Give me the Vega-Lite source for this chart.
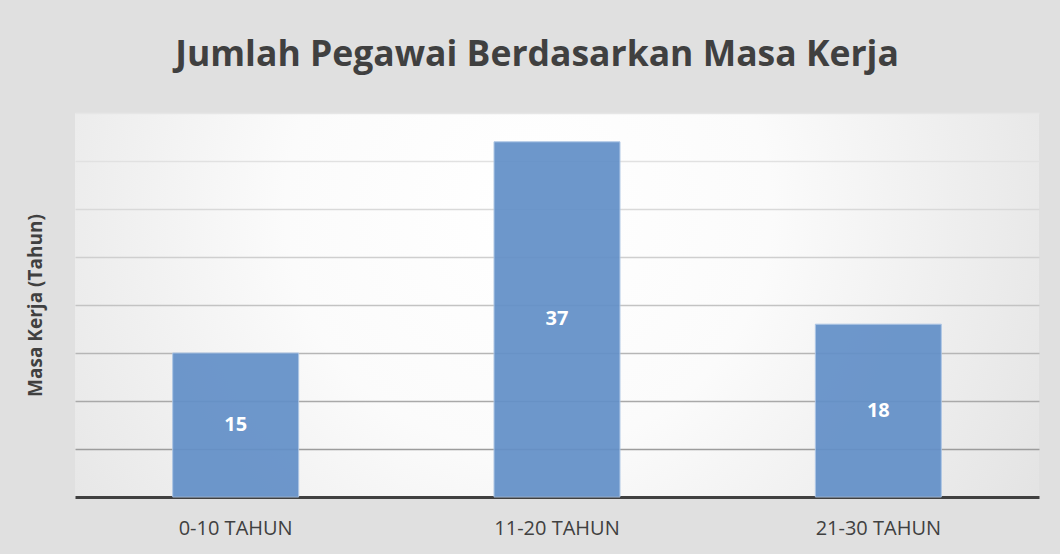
{
  "$schema": "https://vega.github.io/schema/vega-lite/v6.json",
  "width": 964,
  "height": 384,
  "autosize": {"type": "none"},
  "padding": {"left": 75, "top": 113, "right": 21, "bottom": 57},
  "background": "#e0e0e0",
  "title": {
    "text": "Jumlah Pegawai Berdasarkan Masa Kerja",
    "font": "Open Sans",
    "fontSize": 35.5,
    "fontWeight": "bold",
    "color": "#404040",
    "anchor": "middle",
    "baseline": "alphabetic",
    "offset": 12,
    "dx": -20
  },
  "config": {
    "view": {
      "stroke": null,
      "fill": {
        "gradient": "radial",
        "x1": 0.47, "y1": 0.4, "x2": 0.47, "y2": 0.4,
        "r1": 0, "r2": 0.72,
        "stops": [
          {"offset": 0, "color": "#ffffff"},
          {"offset": 0.35, "color": "#fbfbfb"},
          {"offset": 1, "color": "#dcdcdc"}
        ]
      }
    },
    "font": "Open Sans"
  },
  "data": {
    "values": [
      {"masa": "0-10 TAHUN", "jumlah": 15},
      {"masa": "11-20 TAHUN", "jumlah": 37},
      {"masa": "21-30 TAHUN", "jumlah": 18}
    ]
  },
  "transform": [{"calculate": "datum.jumlah / 2", "as": "tengah"}],
  "encoding": {
    "x": {
      "field": "masa",
      "type": "nominal",
      "sort": null,
      "scale": {"paddingInner": 0.608, "paddingOuter": 0.304},
      "axis": {
        "title": null,
        "labelAngle": 0,
        "labelFont": "Open Sans",
        "labelFontSize": 20,
        "labelColor": "#404040",
        "labelBaseline": "alphabetic",
        "labelPadding": 37,
        "ticks": false,
        "tickSize": 0,
        "domainColor": "#404040",
        "domainWidth": 3,
        "domainCap": "butt",
        "grid": false
      }
    }
  },
  "layer": [
    {
      "mark": {"type": "bar", "color": "#6390c8", "opacity": 0.93, "stroke": "#a9c3e4", "strokeWidth": 1},
      "encoding": {
        "y": {
          "field": "jumlah",
          "type": "quantitative",
          "scale": {"domain": [0, 40], "nice": false},
          "axis": {
            "title": "Masa Kerja (Tahun)",
            "titleFont": "Open Sans",
            "titleFontSize": 19,
            "titleFontWeight": "bold",
            "titleColor": "#404040",
            "titleAngle": -90,
            "titleBaseline": "middle",
            "titleAlign": "center",
            "titleX": -40,
            "titleY": 192,
            "labels": false,
            "ticks": false,
            "domain": false,
            "values": [5, 10, 15, 20, 25, 30, 35, 40],
            "grid": true,
            "gridWidth": 1.3,
            "gridColor": {
              "condition": [
                {"test": "datum.value <= 5", "value": "#9c9c9c"},
                {"test": "datum.value <= 10", "value": "#a9a9a9"},
                {"test": "datum.value <= 15", "value": "#b6b6b6"},
                {"test": "datum.value <= 20", "value": "#c3c3c3"},
                {"test": "datum.value <= 25", "value": "#cfcfcf"},
                {"test": "datum.value <= 30", "value": "#d9d9d9"},
                {"test": "datum.value <= 35", "value": "#e1e1e1"}
              ],
              "value": "#e6e6e6"
            }
          }
        }
      }
    },
    {
      "mark": {"type": "text", "color": "#ffffff", "font": "Open Sans", "fontSize": 20, "fontWeight": "bold", "baseline": "middle"},
      "encoding": {
        "y": {"field": "tengah", "type": "quantitative"},
        "text": {"field": "jumlah", "type": "quantitative"}
      }
    }
  ]
}
